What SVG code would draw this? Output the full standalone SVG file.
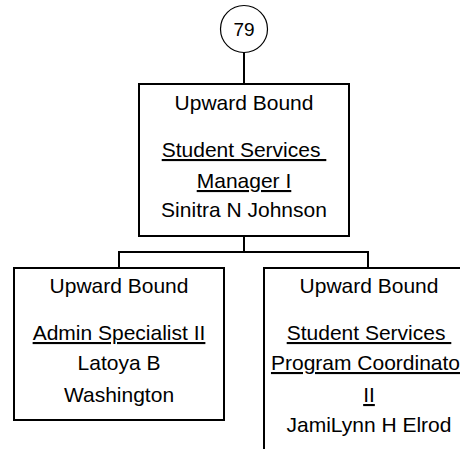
<svg xmlns="http://www.w3.org/2000/svg" width="460" height="449" viewBox="0 0 460 449">
<style>
  .box { fill: #fff; stroke: #000; stroke-width: 2; }
  .conn { fill: none; stroke: #000; stroke-width: 2; }
  text { font-family: "Liberation Sans", Arial, sans-serif; font-size: 21px; fill: #000; text-anchor: middle; white-space: pre; }
  .u { text-decoration: underline; }
</style>
<rect width="460" height="449" fill="#fff"/>
<g id="connectors">
  <line class="conn" x1="244" y1="52" x2="244" y2="84"/>
  <polyline class="conn" points="244,236 244,252"/>
  <polyline class="conn" points="119,268 119,252 368,252 368,268"/>
</g>
<g id="node-79">
  <circle cx="244" cy="29" r="23.5" fill="#fff" stroke="#000" stroke-width="1.2"/>
  <text x="244" y="36" style="font-size:19px">79</text>
</g>
<g id="node-manager">
  <rect class="box" x="139" y="84" width="210" height="152"/>
  <text x="244" y="110">Upward Bound</text>
  <text x="244" y="157" class="u" xml:space="preserve">Student Services </text>
  <text x="244" y="188" class="u">Manager I</text>
  <text x="244" y="217">Sinitra N Johnson</text>
</g>
<g id="node-admin">
  <rect class="box" x="14" y="268" width="210" height="152"/>
  <text x="119" y="293">Upward Bound</text>
  <text x="119" y="340" class="u">Admin Specialist II</text>
  <text x="119" y="370">Latoya B</text>
  <text x="119" y="402">Washington</text>
</g>
<g id="node-coordinator">
  <rect class="box" x="264" y="268" width="210" height="200"/>
  <text x="369" y="293">Upward Bound</text>
  <text x="369" y="340" class="u" xml:space="preserve">Student Services </text>
  <text x="369" y="370" class="u">Program Coordinator</text>
  <text x="369" y="402" class="u">II</text>
  <text x="369" y="432">JamiLynn H Elrod</text>
</g>
</svg>
